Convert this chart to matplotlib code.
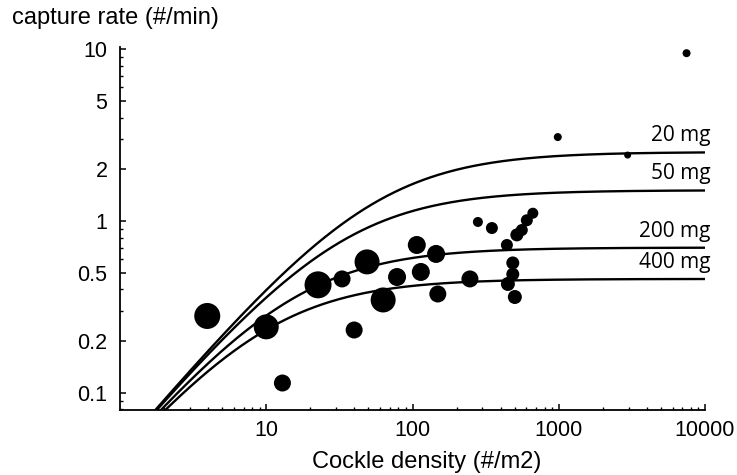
import numpy as np
import matplotlib
matplotlib.use("Agg")
import matplotlib.pyplot as plt
from matplotlib.ticker import FixedLocator, NullFormatter, FixedFormatter, LogLocator

# Observed capture rates vs. cockle density (dot diameter in px ~ sample weight)
density = [3.95, 10.0, 12.9, 22.6, 33.0, 48.9, 63.0, 39.9, 78.4, 107, 114, 145, 149,
           247, 280, 349, 442, 517, 605, 665, 559, 485, 485, 449, 501, 985, 2958, 7480]
capture = [0.28, 0.242, 0.114, 0.425, 0.46, 0.578, 0.347, 0.232, 0.472, 0.725, 0.505,
           0.643, 0.376, 0.46, 0.987, 0.91, 0.725, 0.83, 1.01, 1.11, 0.886, 0.57, 0.49,
           0.43, 0.361, 3.08, 2.42, 9.48]
dot_diam = [26, 25, 17, 27, 17, 25, 25, 17, 18, 18, 18, 18, 17,
            17, 10, 12, 12, 13, 12, 11, 12, 13, 13, 14, 14, 8, 7, 8]

# Type II functional response per prey weight class
weight_labels = ["20 mg", "50 mg", "200 mg", "400 mg"]
max_rate = [2.52, 1.51, 0.70, 0.46]
attack_rate = 0.047

x_ticks = [10, 100, 1000, 10000]
x_ticklabels = ["10", "100", "1000", "10000"]
y_ticks = [0.1, 0.2, 0.5, 1, 2, 5, 10]
y_ticklabels = ["0.1", "0.2", "0.5", "1", "2", "5", "10"]

plt.rcParams["font.family"] = ["Liberation Sans", "DejaVu Sans"]
plt.rcParams["xtick.labelsize"] = 15.5
plt.rcParams["ytick.labelsize"] = 15.5

W, H = 737, 475
fig = plt.figure(figsize=(W / 100, H / 100), dpi=100)
ax = fig.add_axes([120 / W, (H - 410) / H, 585 / W, 363 / H])

xs = np.logspace(0, 4, 400)
for c, lab in zip(max_rate, weight_labels):
    ys = attack_rate * xs / (1 + attack_rate * xs / c)
    ax.plot(xs, ys, color="black", lw=1.7, solid_capstyle="butt", zorder=2)
    yend = attack_rate * 1e4 / (1 + attack_rate * 1e4 / c)
    ax.annotate(lab, xy=(1e4, yend), xytext=(4, 12), textcoords="offset points",
                ha="right", va="center", fontsize=15, family=["Open Sans", "DejaVu Sans"],
                annotation_clip=False)

sizes = [(d * 0.72) ** 2 for d in dot_diam]
ax.scatter(density, capture, s=sizes, color="black", edgecolors="none", zorder=3)

ax.set_xscale("log")
ax.set_yscale("log")
ax.set_xlim(1, 10000)
ax.set_ylim(0.0794, 10.3)

ax.xaxis.set_major_locator(FixedLocator(x_ticks))
ax.xaxis.set_major_formatter(FixedFormatter(x_ticklabels))
ax.xaxis.set_minor_locator(LogLocator(base=10, subs=np.arange(2, 10)))
ax.xaxis.set_minor_formatter(NullFormatter())
ax.yaxis.set_major_locator(FixedLocator(y_ticks))
ax.yaxis.set_major_formatter(FixedFormatter(y_ticklabels))
ax.yaxis.set_minor_locator(LogLocator(base=10, subs=np.arange(2, 10)))
ax.yaxis.set_minor_formatter(NullFormatter())

for s in ["top", "right"]:
    ax.spines[s].set_visible(False)
for s in ["left", "bottom"]:
    ax.spines[s].set_linewidth(1.3)

ax.tick_params(which="major", direction="in", length=4, width=1.1, colors="black")
ax.tick_params(axis="x", which="major", pad=7)
ax.tick_params(axis="y", which="major", pad=9)
ax.tick_params(which="minor", direction="in", length=2.5, width=1.0)

fig.text(427 / W, 1 - 462 / H, "Cockle density (#/m2)", fontsize=17,
         ha="center", va="center")
fig.text(12 / W, 1 - 18 / H, "capture rate (#/min)", fontsize=17,
         ha="left", va="center")

fig.savefig("out.png", dpi=100)
